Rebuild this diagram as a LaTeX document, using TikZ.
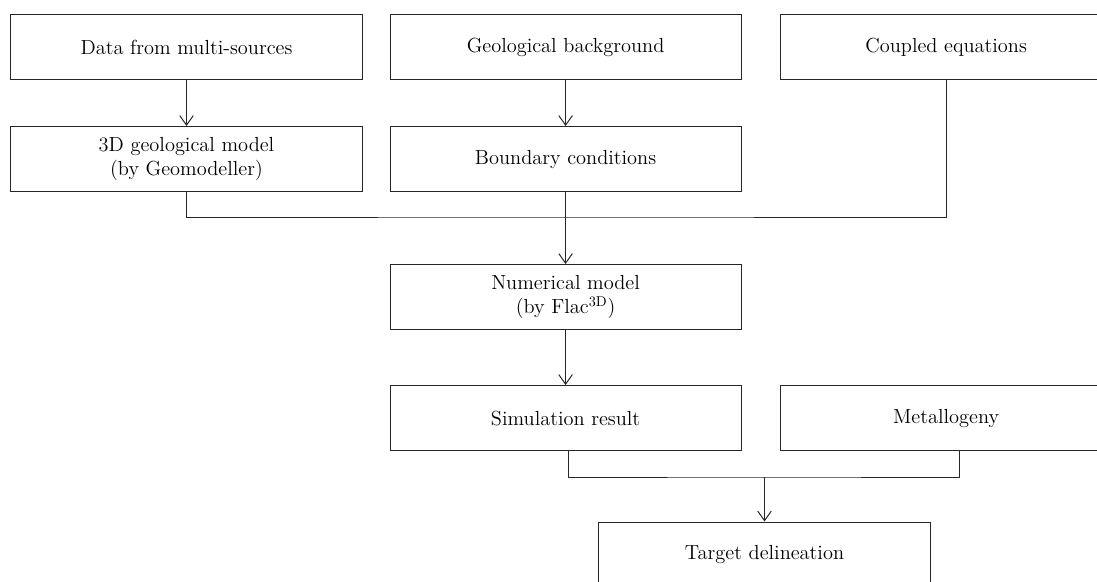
\documentclass[tikz,border=0pt]{standalone}
\usetikzlibrary{positioning,arrows.meta}

\begin{document}
\begin{tikzpicture}[x=0.025cm, y=-0.025cm, node distance=1.15cm,
    block/.style={rectangle, draw=black!85, line width=0.7pt, minimum width=8.775cm,
      minimum height=1.625cm, align=center, inner sep=0pt,
      font=\fontsize{14.5}{17.5}\selectfont},
    wide/.style={block, minimum width=8.3cm},
    link/.style={draw=black!85, line width=0.7pt},
    flow/.style={link, -{Straight Barb[length=2.4mm, width=3.4mm]}}]
    \clip (0,0) rectangle (1097,582);

    % Main components
    \node [block] (data) at (186.5,47) {Data from multi-sources};
    \node [block, right=0.675cm of data] (geo) {Geological background};
    \node [wide, right=0.95cm of geo] (coupled) {Coupled equations};
    \node [block, below=of data] (model3d) {3D geological model\\(by Geomodeller)};
    \node [block, below=of geo] (boundary) {Boundary conditions};
    \node [block, below=1.8cm of boundary] (numerical) {Numerical model\\(by Flac\textsuperscript{3D})};
    \node [block, below=1.375cm of numerical] (simres) {Simulation result};
    \node [wide, right=0.95cm of simres] (metal) {Metallogeny};
    \node [wide] (target) at (764.5,554.5) {Target delineation};

    % Joints
    \coordinate (join1) at (boundary.south |- 0,217);
    \coordinate (join2) at (target.north |- 0,477);

    % Arrows
    \draw [flow] (data) -- (model3d);
    \draw [flow] (geo) -- (boundary);
    \draw [link] (model3d.south) |- (join1) -| (coupled.south);
    \draw [flow] (boundary) -- (numerical);
    \draw [flow] (numerical) -- (simres);
    \draw [link] ([xshift=0.075cm]simres.south) |- (join2) -| ([xshift=0.325cm]metal.south);
    \draw [flow] (join2) -- (target);
\end{tikzpicture}
\end{document}
